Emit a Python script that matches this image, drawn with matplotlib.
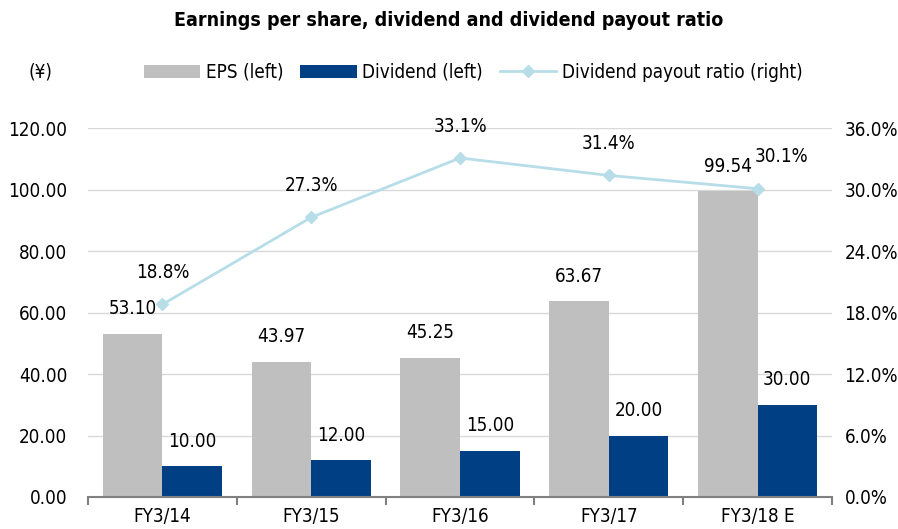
import numpy as np
import matplotlib.pyplot as plt
from matplotlib import font_manager

# prefer a narrow face if one is installed
cond = [f for f in font_manager.fontManager.ttflist
        if "condensed" in f.fname.lower() or "narrow" in f.fname.lower()]
cond = [f for f in cond if "bold" not in f.fname.lower() and "oblique" not in f.fname.lower()
        and "italic" not in f.fname.lower()]
if cond:
    plt.rcParams["font.family"] = [cond[0].name, "DejaVu Sans"]
    plt.rcParams["font.stretch"] = cond[0].stretch
else:
    plt.rcParams["font.family"] = ["DejaVu Sans"]

years = ["FY3/14", "FY3/15", "FY3/16", "FY3/17", "FY3/18 E"]
eps = [53.10, 43.97, 45.25, 63.67, 99.54]
dividend = [10.00, 12.00, 15.00, 20.00, 30.00]
payout = [18.8, 27.3, 33.1, 31.4, 30.1]

# label nudges (points)
payout_dx = [0, 0, 0, 0, 17]

c_eps = "#BFBFBF"
c_div = "#003F84"
c_line = "#B7DEE8"
fs = 13.5

fig = plt.figure(figsize=(8.98, 5.29), dpi=100)
ax = fig.add_axes([0.098, 0.0605, 0.8285, 0.697])
x = np.arange(len(years))
w = 0.4

b1 = ax.bar(x - w / 2, eps, w, color=c_eps, label="EPS (left)", zorder=2)
b2 = ax.bar(x + w / 2, dividend, w, color=c_div, label="Dividend (left)", zorder=2)
ax.set_ylim(0, 120)
ax.set_xlim(-0.5, len(years) - 0.5)
ax.set_yticks(np.arange(0, 121, 20))
ax.set_yticklabels([f"{v:.2f}" for v in np.arange(0, 121, 20)])
ax.yaxis.grid(True, color="#D9D9D9", lw=1, zorder=0)
ax.set_axisbelow(True)
for s in ["top", "left", "right"]:
    ax.spines[s].set_visible(False)
ax.spines["bottom"].set_color("#808080")
ax.spines["bottom"].set_linewidth(1.5)
ax.set_xticks(np.arange(-0.5, len(years), 1), minor=False)
ax.set_xticklabels([])
ax.set_xticks(x, minor=True)
ax.set_xticklabels(years, minor=True)
ax.tick_params(axis="x", which="major", length=6, width=1.5, color="#808080", direction="out")
ax.tick_params(axis="x", which="minor", length=0, pad=7, labelsize=fs)
ax.tick_params(axis="y", length=0, labelsize=fs, pad=15)

for i in range(len(years)):
    ax.annotate(f"{eps[i]:.2f}", (x[i] - w / 2, eps[i]), xytext=(0, 18), textcoords="offset points",
                ha="center", va="center", fontsize=fs)
    ax.annotate(f"{dividend[i]:.2f}", (x[i] + w / 2, dividend[i]), xytext=(0, 18),
                textcoords="offset points", ha="center", va="center", fontsize=fs)

ax2 = ax.twinx()
l1, = ax2.plot(x, payout, color=c_line, lw=2, marker="D", ms=6,
               label="Dividend payout ratio (right)", zorder=3)
ax2.set_ylim(0, 36)
ax2.set_yticks(np.arange(0, 37, 6))
ax2.set_yticklabels([f"{v:.1f}%" for v in np.arange(0, 37, 6)])
ax2.tick_params(axis="y", length=0, labelsize=fs, pad=9)
for s in ["top", "left", "right", "bottom"]:
    ax2.spines[s].set_visible(False)
for i in range(len(years)):
    ax2.annotate(f"{payout[i]:.1f}%", (x[i], payout[i]), xytext=(payout_dx[i], 23),
                 textcoords="offset points", ha="center", va="center", fontsize=fs)

fig.text(0.5, 0.962, "Earnings per share, dividend and dividend payout ratio",
         ha="center", va="center", fontsize=14, fontweight="bold")
fig.text(0.045, 0.863, "(¥)", ha="center", va="center", fontsize=fs)
fig.legend([b1, b2, l1], ["EPS (left)", "Dividend (left)", "Dividend payout ratio (right)"],
           loc="center", bbox_to_anchor=(0.527, 0.863), ncol=3, frameon=False, fontsize=fs,
           handlelength=3, handleheight=0.7, columnspacing=0.9, handletextpad=0.3)

fig.savefig("out.png", dpi=100)
